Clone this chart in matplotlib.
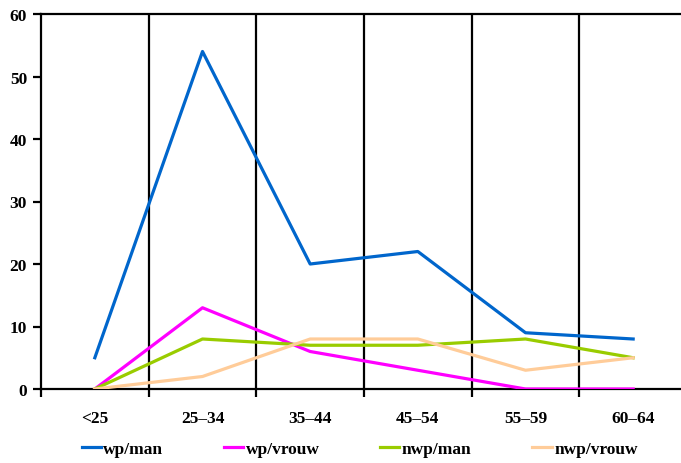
import matplotlib
matplotlib.use('Agg')
import matplotlib.pyplot as plt

plt.rcParams['font.family'] = ['Liberation Serif', 'DejaVu Serif']
plt.rcParams['font.weight'] = 'bold'

categories = ['<25', '25\u201334', '35\u201344', '45\u201354', '55\u201359', '60\u201364']
wp_man = [5, 54, 20, 22, 9, 8]
wp_vrouw = [0, 13, 6, 3, 0, 0]
nwp_man = [0, 8, 7, 7, 8, 5]
nwp_vrouw = [0, 2, 8, 8, 3, 5]

series = [
    ('wp/man', wp_man, '#0066CC'),
    ('wp/vrouw', wp_vrouw, '#FF00FF'),
    ('nwp/man', nwp_man, '#99CC00'),
    ('nwp/vrouw', nwp_vrouw, '#FFCC99'),
]

fig = plt.figure(figsize=(6.81, 4.64), dpi=100)
ax = fig.add_axes([41/681, 74/464, 646/681, 375/464])

x = list(range(len(categories)))
# separators between the age groups
for b in range(1, len(categories)):
    ax.axvline(b - 0.5, color='black', lw=1.6, zorder=1)

handles = []
for name, vals, col in series:
    h, = ax.plot(x, vals, color=col, lw=2.3, label=name, zorder=3)
    handles.append(h)

ax.set_xlim(-0.5, len(categories) - 0.5)
ax.set_ylim(0, 60)
ax.set_yticks(range(0, 61, 10))

ax.set_xticks([i - 0.5 for i in range(len(categories) + 1)])
ax.set_xticklabels([])
ax.set_xticks(x, minor=True)
ax.set_xticklabels(categories, minor=True)
ax.tick_params(axis='x', which='major', length=6, width=1.6, direction='out')
ax.tick_params(axis='x', which='minor', length=0, pad=15, labelsize=12.5)
ax.tick_params(axis='y', length=6, width=1.6, direction='out', labelsize=12.5, pad=4)

for s in ['left', 'bottom', 'top']:
    ax.spines[s].set_linewidth(1.6)
ax.spines['right'].set_visible(False)

fig.legend(handles=handles, loc='center', bbox_to_anchor=(0.528, 0.03), ncol=4,
           frameon=False, handlelength=1.1, handletextpad=0.15, columnspacing=3.5,
           prop={'weight': 'bold', 'size': 12.5})

plt.savefig('out.png', dpi=100)
